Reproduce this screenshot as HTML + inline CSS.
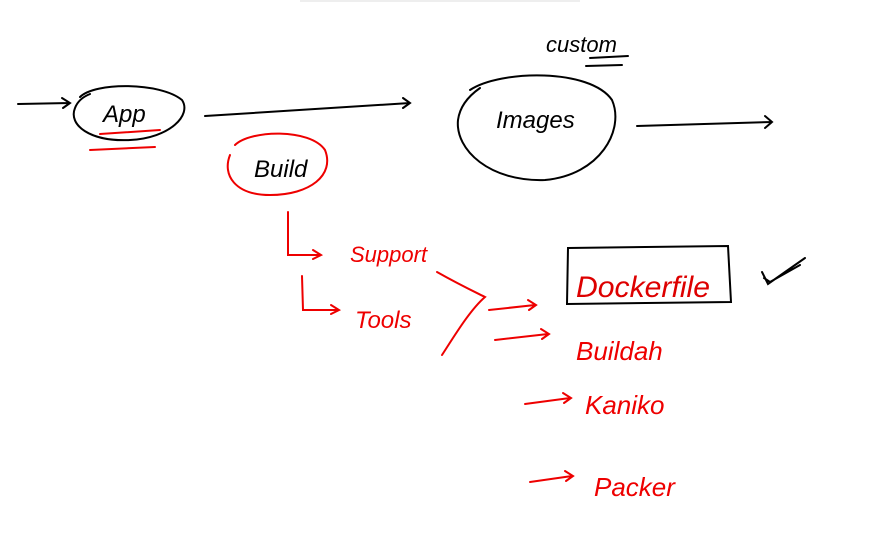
<!DOCTYPE html>
<html><head><meta charset="utf-8"><style>
html,body{margin:0;padding:0;background:#fff;width:882px;height:550px;overflow:hidden}
svg{display:block}
text{font-family:"Liberation Sans",sans-serif}
</style></head><body>
<svg width="882" height="550" viewBox="0 0 882 550" xmlns="http://www.w3.org/2000/svg">
<rect x="300" y="0" width="280" height="2" fill="#eee"/>
<g fill="none" stroke="#000" stroke-width="2" stroke-linecap="round">
<path d="M18 104 L70 103 M62 98 L70 103 L63 108"/>
<path d="M80 97 C95 82,160 82,182 100 C192 115,170 138,130 140 C90 142,68 125,75 108 C78 100,85 96,90 94"/>
<path d="M205 116 L410 103 M403 98 L410 103 L403 108"/>
<path d="M470 90 C500 70,590 68,612 100 C625 130,600 175,545 180 C490 182,455 150,458 120 C460 105,470 95,480 88"/>
<path d="M637 126 L772 122 M765 116 L772 122 L765 128"/>
<path d="M590 58 L628 56 M586 66 L622 65"/>
<path d="M568 248 L728 246 L731 302 L567 304 Z"/>
<path d="M762 272 L768 284 L805 258 M764 278 L770 282 L800 265"/>
</g>
<text x="103" y="122" font-size="24" fill="#000" font-style="italic">App</text>
<text x="496" y="128" font-size="24" fill="#000" font-style="italic">Images</text>
<text x="546" y="52" font-size="22" fill="#000" font-style="italic">custom</text>
<text x="576" y="297" font-size="30" fill="#d00" font-style="italic" textLength="134" lengthAdjust="spacingAndGlyphs">Dockerfile</text>
<g fill="none" stroke="#e00" stroke-width="2" stroke-linecap="round">
<path d="M100 134 L160 130 M90 150 L155 147"/>
<path d="M235 145 C250 130,310 128,325 150 C335 175,310 195,270 195 C235 195,222 175,230 155"/>
<path d="M288 212 L288 255 L320 255 M313 250 L321 255 L313 259"/>
<path d="M302 276 L303 310 L338 310 M331 305 L339 310 L331 314"/>
<path d="M437 272 C460 285,475 292,485 297 C470 310,455 335,442 355"/>
<path d="M489 310 L535 305 M528 300 L536 305 L529 310"/>
<path d="M495 340 L548 334 M541 329 L549 334 L542 339"/>
<path d="M525 404 L570 398 M563 393 L571 398 L564 403"/>
<path d="M530 482 L572 476 M565 471 L573 476 L566 481"/>
</g>
<text x="254" y="177" font-size="24" fill="#000" font-style="italic">Build</text>
<text x="350" y="262" font-size="22" fill="#e00" font-style="italic">Support</text>
<text x="355" y="328" font-size="24" fill="#e00" font-style="italic">Tools</text>
<text x="576" y="360" font-size="26" fill="#e00" font-style="italic">Buildah</text>
<text x="585" y="414" font-size="26" fill="#e00" font-style="italic">Kaniko</text>
<text x="594" y="496" font-size="26" fill="#e00" font-style="italic">Packer</text>
</svg>
</body></html>
